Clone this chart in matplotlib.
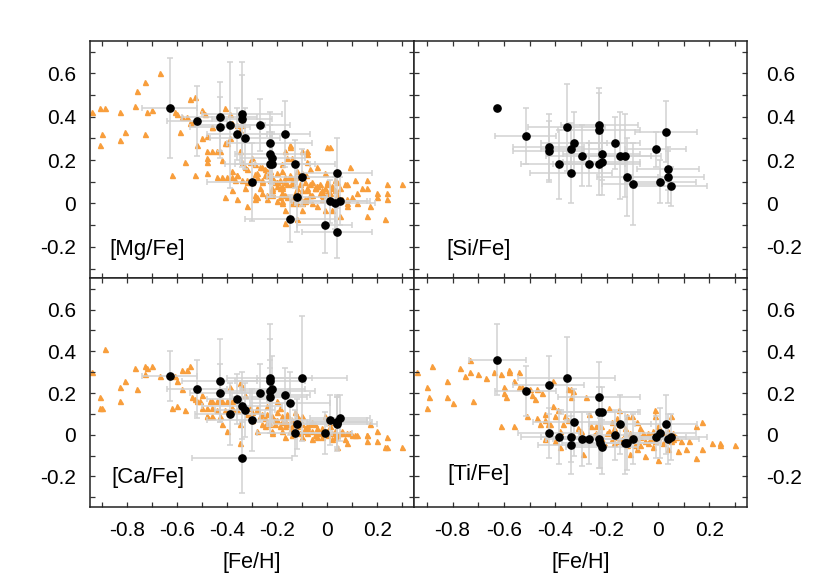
import matplotlib
matplotlib.use("Agg")
import matplotlib.pyplot as plt
import numpy as np
from matplotlib.ticker import FixedLocator, FuncFormatter

plt.rcParams['font.family'] = ['Liberation Sans', 'DejaVu Sans']
plt.rcParams['axes.unicode_minus'] = False

# ---------------- literature sample (orange triangles) ----------------
mg_lit_feh = [-0.94,-0.91,-0.89,-0.83,-0.77,-0.73,-0.76,-0.67,-0.72,-0.70,-0.90,-0.91,-0.83,-0.81,-0.73,-0.62,-0.61,-0.60,-0.58,-0.56,
              -0.55,-0.53,-0.59,-0.57,-0.53,-0.52,-0.55,-0.54,-0.50,-0.49,-0.46,-0.46,-0.48,-0.50,-0.48,-0.48,-0.46,-0.44,-0.43,-0.42,
              -0.41,-0.41,-0.40,-0.39,-0.39,-0.38,-0.36,-0.35,-0.34,-0.34,-0.48,-0.48,-0.44,-0.42,-0.40,-0.38,-0.38,-0.36,-0.35,-0.34,
              -0.33,-0.32,-0.41,-0.36,-0.32,-0.31,-0.30,-0.29,-0.28,-0.27,-0.26,-0.25,-0.24,-0.24,-0.23,-0.23,-0.21,-0.22,-0.20,-0.20,
              -0.19,-0.18,-0.18,-0.17,-0.16,-0.18,-0.18,-0.17,-0.16,-0.15,-0.15,-0.14,-0.15,-0.14,-0.13,-0.12,-0.12,-0.11,-0.10,-0.10,
              -0.08,-0.08,-0.08,-0.07,-0.09,-0.08,-0.08,-0.07,-0.06,-0.05,-0.04,-0.04,-0.03,-0.02,-0.02,-0.01,0.00,0.01,0.00,0.01,
              0.02,0.02,0.03,0.03,0.04,0.05,0.07,0.08,0.08,0.09,0.10,0.11,0.12,0.12,0.14,0.16,0.16,0.16,0.17,0.20,
              0.20,0.24,0.24,0.24,0.23,0.30,-0.29,-0.28,-0.26,-0.24,-0.24,-0.22,-0.20,-0.18,-0.17,-0.17,-0.14,-0.12,-0.10,-0.10,
              -0.09,-0.08,-0.06,-0.04,-0.01,0.02,0.05,0.00,-0.12,-0.22,-0.30,-0.32,-0.34,-0.33,-0.38,-0.20,-0.16,-0.13,-0.10,-0.06,
              -0.03,-0.01,0.04,0.06,-0.26,-0.22,-0.19,-0.14,-0.27,
              -0.36,-0.37,-0.29,-0.28,-0.26,-0.25,-0.20,-0.19,-0.18,-0.17,-0.15,-0.14,-0.18,-0.09,-0.07,-0.05,-0.04,-0.02,-0.02,0.00,
              -0.07,0.08,0.08,-0.11,-0.18,-0.22,-0.17,-0.12,-0.085,-0.24,-0.32,-0.29]
mg_lit_val = [0.42,0.44,0.44,0.42,0.45,0.56,0.52,0.60,0.42,0.43,0.32,0.27,0.29,0.33,0.32,0.13,0.42,0.41,0.40,0.40,
              0.48,0.49,0.33,0.19,0.13,0.27,0.37,0.37,0.43,0.41,0.35,0.35,0.31,0.30,0.24,0.21,0.24,0.24,0.24,0.20,
              0.44,0.28,0.28,0.41,0.30,0.37,0.36,0.34,0.36,0.39,0.19,0.14,0.12,0.12,0.12,0.15,0.12,0.13,0.24,0.19,
              0.17,0.16,0.03,0.02,-0.01,0.19,0.21,0.18,0.14,0.17,0.17,0.16,0.13,0.13,0.15,0.11,0.10,0.07,0.14,0.10,
              0.11,0.15,0.18,0.24,0.21,0.07,0.05,0.04,0.03,0.27,0.26,0.21,0.13,0.10,0.12,0.07,0.05,0.09,0.14,0.24,
              0.24,0.23,0.19,0.16,0.10,0.07,0.06,0.04,0.10,0.07,0.17,0.08,0.05,0.05,0.02,0.14,0.26,0.26,0.10,0.05,
              0.07,0.08,0.11,0.06,0.04,0.07,0.09,0.00,-0.01,0.17,0.03,0.11,0.05,0.00,0.07,0.11,-0.06,0.07,-0.01,0.05,
              0.03,0.09,0.05,0.02,-0.07,0.09,0.02,0.03,0.05,0.04,0.02,0.05,0.01,0.00,-0.03,-0.09,0.00,-0.07,-0.03,0.00,
              0.02,0.02,0.00,-0.01,-0.03,-0.03,-0.06,0.05,0.00,0.04,0.10,0.11,0.11,0.07,0.06,0.08,0.09,0.05,0.06,0.04,
              0.09,0.07,0.10,0.02,0.10,0.12,0.03,0.02,0.07,
              0.13,0.11,0.135,0.12,0.11,0.13,0.10,0.07,0.08,0.10,0.12,0.09,0.01,0.01,0.09,0.07,0.08,0.06,0.04,0.09,
              0.04,0.09,0.02,0.03,0.05,0.06,0.12,0.15,0.13,0.15,0.10,0.04]

ca_lit_feh = [-0.94,-0.91,-0.90,-0.91,-0.89,-0.83,-0.81,-0.83,-0.77,-0.76,-0.73,-0.72,-0.70,-0.73,-0.67,-0.62,-0.60,-0.57,-0.61,-0.60,
              -0.58,-0.56,-0.55,-0.58,-0.54,-0.53,-0.52,-0.51,-0.50,-0.50,-0.48,-0.47,-0.46,-0.46,-0.44,-0.43,-0.42,-0.40,-0.39,-0.38,
              -0.48,-0.48,-0.46,-0.43,-0.42,-0.40,-0.38,-0.36,-0.35,-0.35,-0.35,-0.34,-0.33,-0.32,-0.31,-0.30,-0.28,-0.28,-0.27,-0.26,
              -0.25,-0.24,-0.24,-0.23,-0.22,-0.28,-0.26,-0.22,-0.21,-0.20,-0.19,-0.18,-0.18,-0.17,-0.17,-0.16,-0.16,-0.15,-0.14,-0.13,
              -0.12,-0.12,-0.11,-0.10,-0.10,-0.09,-0.08,-0.08,-0.07,-0.06,-0.06,-0.05,-0.04,-0.04,-0.03,-0.02,-0.01,0.00,0.00,0.01,
              0.02,0.02,0.03,0.04,0.04,0.05,0.06,0.06,0.07,0.08,0.08,0.09,0.10,0.11,0.12,0.16,0.16,0.17,0.20,0.20,
              0.24,0.23,0.24,0.30,0.16,-0.04,-0.10,-0.14,-0.22,-0.18,-0.16,-0.12,-0.20,-0.24,-0.20,-0.30,-0.38,-0.41,-0.44,
              -0.21,-0.19,-0.14,-0.11,-0.08,-0.05,-0.02,0.01,0.03,-0.25,-0.17,-0.13,-0.09,-0.06]
ca_lit_val = [0.30,0.18,0.13,0.13,0.41,0.23,0.26,0.16,0.32,0.22,0.33,0.32,0.33,0.29,0.28,0.13,0.14,0.12,0.28,0.26,
              0.31,0.31,0.33,0.22,0.18,0.17,0.16,0.16,0.19,0.13,0.13,0.16,0.13,0.16,0.16,0.16,0.16,0.16,0.23,0.16,
              0.09,0.09,0.09,0.09,0.05,0.02,0.13,0.12,0.25,0.05,-0.04,0.23,0.19,0.10,0.13,0.11,0.13,0.12,0.09,0.10,
              0.08,0.10,0.06,0.05,0.02,0.02,0.05,0.09,0.05,0.07,0.13,0.09,0.06,0.04,-0.01,0.09,0.05,0.02,0.07,0.11,
              0.09,0.04,0.01,0.05,0.09,0.02,0.04,0.01,0.05,-0.02,0.02,0.05,0.01,0.03,0.01,-0.01,0.09,0.02,0.00,0.04,
              0.01,-0.02,0.02,-0.06,0.00,0.01,0.01,0.02,-0.02,0.01,-0.04,0.01,0.00,0.00,0.00,0.00,-0.03,0.05,0.02,-0.03,
              -0.01,-0.06,-0.06,-0.06,0.00,-0.01,-0.01,0.00,0.01,0.02,0.10,0.09,0.11,0.14,0.16,0.07,0.13,0.12,0.12,
              0.07,0.04,0.04,0.07,0.03,0.00,0.03,0.06,-0.01,0.04,0.07,0.06,0.03,0.06]

ti_lit_feh = [-0.94,-0.90,-0.89,-0.90,-0.88,-0.82,-0.82,-0.80,-0.77,-0.75,-0.73,-0.73,-0.72,-0.70,-0.67,-0.64,-0.61,-0.61,-0.60,-0.60,
              -0.59,-0.58,-0.58,-0.56,-0.56,-0.54,-0.54,-0.53,-0.51,-0.50,-0.49,-0.48,-0.47,-0.47,-0.46,-0.45,-0.44,-0.44,-0.43,-0.42,
              -0.41,-0.41,-0.40,-0.40,-0.39,-0.38,-0.37,-0.36,-0.35,-0.34,-0.34,-0.33,-0.31,-0.30,-0.29,-0.28,-0.27,-0.26,-0.24,-0.23,
              -0.22,-0.20,-0.19,-0.18,-0.18,-0.17,-0.16,-0.15,-0.15,-0.15,-0.13,-0.12,-0.11,-0.11,-0.10,-0.09,-0.08,-0.08,-0.07,-0.07,
              -0.05,-0.05,-0.04,-0.03,-0.02,-0.01,-0.01,0.00,0.00,0.01,0.02,0.04,0.05,0.05,0.06,0.08,0.09,0.11,0.12,0.15,
              0.15,0.17,0.17,0.21,0.24,0.24,0.30,-0.30,-0.27,-0.25,-0.22,-0.21,-0.19,-0.17,-0.14,-0.13,-0.11,-0.09,-0.07,-0.06,
              -0.04,-0.02,-0.01,0.02,0.03,0.06,0.07,-0.35,-0.33,-0.38,-0.44,-0.24,-0.16,-0.12,-0.08,0.00,0.04]
ti_lit_val = [0.30,0.23,0.18,0.13,0.33,0.26,0.18,0.15,0.32,0.28,0.36,0.30,0.16,0.29,0.27,0.30,0.04,0.29,0.23,0.20,
              0.18,0.31,0.30,0.04,0.26,0.30,0.23,0.23,0.09,0.22,0.19,0.17,0.22,0.08,0.05,0.20,0.10,-0.02,0.05,0.05,
              0.26,0.14,0.09,-0.03,0.12,-0.06,0.05,0.09,0.22,0.22,0.18,0.21,0.03,-0.01,-0.09,0.18,0.10,0.04,0.01,0.05,
              0.04,0.01,0.13,0.06,-0.02,0.03,-0.01,0.12,0.05,-0.03,0.01,0.09,-0.09,-0.01,0.09,-0.05,0.06,-0.03,-0.05,0.03,
              -0.03,-0.10,0.01,-0.02,-0.06,0.12,0.09,-0.12,-0.01,0.02,-0.04,-0.07,0.09,-0.03,0.01,-0.08,-0.03,-0.07,-0.03,0.04,
              -0.11,0.06,-0.07,-0.04,-0.04,-0.05,-0.05,0.02,-0.02,0.00,-0.01,-0.04,0.02,-0.04,-0.02,0.03,0.01,-0.01,-0.01,0.01,
              -0.04,0.02,-0.03,0.01,-0.01,-0.02,-0.01,0.07,0.00,0.02,0.07,0.04,0.08,-0.05,-0.07,0.04,0.02]

# ---------------- program stars (black circles with errors) ----------------
mg_feh = [-0.63,-0.52,-0.43,-0.43,-0.39,-0.36,-0.34,-0.34,-0.33,-0.27,-0.30,-0.23,-0.23,-0.22,-0.23,-0.22,-0.17,-0.13,-0.10,-0.12,-0.15,-0.01,0.01,0.03,0.05,0.04,0.04]
mg_val = [0.44,0.38,0.40,0.35,0.36,0.32,0.41,0.39,0.30,0.36,0.10,0.28,0.23,0.21,0.18,0.18,0.32,0.18,0.12,0.03,-0.07,-0.10,0.01,0.00,0.01,0.14,-0.13]
mg_xerr = [0.11,0.12,0.15,0.12,0.14,0.12,0.16,0.12,0.14,0.12,0.18,0.17,0.14,0.13,0.18,0.15,0.10,0.16,0.14,0.12,0.18,0.11,0.15,0.16,0.12,0.14,0.14]
mg_yerr = [0.23,0.16,0.16,0.14,0.29,0.12,0.24,0.20,0.14,0.12,0.18,0.14,0.13,0.12,0.15,0.14,0.15,0.11,0.13,0.16,0.11,0.13,0.10,0.12,0.11,0.16,0.12]

si_feh = [-0.625,-0.515,-0.426,-0.426,-0.385,-0.356,-0.337,-0.327,-0.337,-0.297,-0.267,-0.228,-0.228,-0.218,-0.228,-0.218,-0.168,-0.148,-0.128,-0.119,-0.098,-0.009,0.01,0.031,0.04,0.04,0.05]
si_val = [0.44,0.31,0.26,0.24,0.18,0.35,0.25,0.28,0.14,0.22,0.18,0.36,0.34,0.23,0.18,0.19,0.28,0.22,0.22,0.12,0.09,0.25,0.10,0.33,0.16,0.12,0.08]
si_xerr = [0.0,0.12,0.14,0.14,0.15,0.15,0.12,0.13,0.16,0.14,0.14,0.15,0.16,0.15,0.16,0.15,0.10,0.12,0.14,0.12,0.12,0.12,0.14,0.12,0.12,0.14,0.14]
si_yerr = [0.0,0.13,0.15,0.14,0.16,0.20,0.12,0.14,0.14,0.14,0.10,0.17,0.17,0.12,0.14,0.15,0.12,0.20,0.19,0.18,0.19,0.08,0.10,0.14,0.10,0.12,0.09]

ca_feh = [-0.63,-0.52,-0.43,-0.43,-0.39,-0.36,-0.34,-0.33,-0.34,-0.30,-0.27,-0.23,-0.23,-0.22,-0.23,-0.23,-0.17,-0.15,-0.10,-0.12,-0.13,-0.01,0.01,0.04,0.05,0.04,0.04]
ca_val = [0.28,0.22,0.26,0.20,0.10,0.17,0.14,0.12,-0.11,0.07,0.20,0.27,0.26,0.22,0.21,0.18,0.19,0.15,0.27,0.05,0.01,0.01,0.07,0.05,0.08,0.06,0.06]
ca_xerr = [0.11,0.12,0.15,0.12,0.14,0.12,0.16,0.12,0.20,0.18,0.12,0.17,0.14,0.13,0.18,0.15,0.10,0.16,0.18,0.12,0.15,0.11,0.15,0.16,0.12,0.14,0.12]
ca_yerr = [0.12,0.14,0.20,0.14,0.15,0.12,0.16,0.13,0.17,0.15,0.14,0.26,0.20,0.16,0.15,0.14,0.13,0.15,0.30,0.12,0.11,0.10,0.12,0.13,0.11,0.12,0.13]

ti_feh = [-0.625,-0.515,-0.426,-0.426,-0.385,-0.356,-0.337,-0.337,-0.327,-0.297,-0.267,-0.228,-0.228,-0.218,-0.228,-0.225,-0.218,-0.168,-0.148,-0.128,-0.119,-0.098,-0.009,0.01,0.031,0.04,0.05]
ti_val = [0.36,0.21,0.24,0.01,-0.01,0.27,-0.01,-0.05,0.06,-0.02,-0.02,0.18,0.11,0.11,-0.02,-0.04,-0.06,0.00,0.05,-0.04,-0.04,-0.02,-0.01,0.01,0.05,-0.02,-0.01]
ti_xerr = [0.11,0.12,0.14,0.12,0.15,0.19,0.12,0.13,0.16,0.14,0.14,0.16,0.15,0.15,0.16,0.15,0.14,0.10,0.12,0.14,0.12,0.12,0.12,0.14,0.12,0.12,0.14]
ti_yerr = [0.17,0.12,0.14,0.12,0.13,0.20,0.12,0.14,0.16,0.13,0.12,0.17,0.12,0.12,0.14,0.12,0.13,0.12,0.14,0.15,0.13,0.12,0.10,0.12,0.14,0.12,0.11]

panel_labels = ["[Mg/Fe]", "[Si/Fe]", "[Ca/Fe]", "[Ti/Fe]"]
x_label = "[Fe/H]"

ORANGE = '#f89e3c'
ERRC = '#d2d2d2'

fig = plt.figure(figsize=(8.30, 5.81), dpi=100)
positions = [
    [0.1084, 0.521, 0.3904, 0.409],
    [0.4988, 0.521, 0.4012, 0.409],
    [0.1084, 0.1279, 0.3904, 0.393],
    [0.4988, 0.1279, 0.4012, 0.393],
]
lit = [(mg_lit_feh, mg_lit_val), None, (ca_lit_feh, ca_lit_val), (ti_lit_feh, ti_lit_val)]
prog = [(mg_feh, mg_val, mg_xerr, mg_yerr), (si_feh, si_val, si_xerr, si_yerr),
        (ca_feh, ca_val, ca_xerr, ca_yerr), (ti_feh, ti_val, ti_xerr, ti_yerr)]
label_pos = [(0.059, 0.12), (0.096, 0.12), (0.067, 0.126), (0.10, 0.139)]

xticks = np.round(np.arange(-0.9, 0.35, 0.1), 2)
yticks = np.round(np.arange(-0.3, 0.75, 0.1), 2)

def fmt(v, pos):
    r = round(v, 2)
    if abs(r) < 1e-9:
        return "0"
    if abs(round(r * 10)) % 2 == 1:
        return ""
    return ("%.1f" % r)

for i in range(4):
    ax = fig.add_axes(positions[i])
    if lit[i] is not None:
        ax.plot(lit[i][0], lit[i][1], linestyle='none', marker='^', ms=3.6,
                color=ORANGE, mec=ORANGE, zorder=1)
    fx, fy, ex, ey = prog[i]
    ax.errorbar(fx, fy, xerr=ex, yerr=ey, fmt='none', ecolor=ERRC, elinewidth=1.1,
                capsize=2.5, capthick=1.1, zorder=2)
    ax.plot(fx, fy, linestyle='none', marker='o', ms=5.2, color='black', zorder=3)
    ax.set_xlim(-0.95, 0.347)
    ax.set_ylim(-0.345, 0.75)
    ax.xaxis.set_major_locator(FixedLocator(xticks))
    ax.yaxis.set_major_locator(FixedLocator(yticks))
    ax.xaxis.set_major_formatter(FuncFormatter(fmt))
    ax.yaxis.set_major_formatter(FuncFormatter(fmt))
    for s in ax.spines.values():
        s.set_linewidth(1.1)
        s.set_color('#222222')
    right = (i % 2 == 1)
    bottom = (i >= 2)
    ax.tick_params(axis='both', which='major', direction='in', length=3.5, width=0.9,
                   color='#333333', top=True, bottom=True, left=True, right=True,
                   labelsize=15)
    ax.tick_params(axis='y', labelleft=not right, labelright=right,
                   pad=(14 if right else 10))
    ax.tick_params(axis='x', labelbottom=bottom, labeltop=False, pad=10)
    if bottom:
        ax.set_xlabel(x_label, fontsize=15.5, labelpad=9)
    ax.text(label_pos[i][0], label_pos[i][1], panel_labels[i], transform=ax.transAxes,
            fontsize=16, ha='left', va='center')

fig.savefig('out.png', dpi=100)
